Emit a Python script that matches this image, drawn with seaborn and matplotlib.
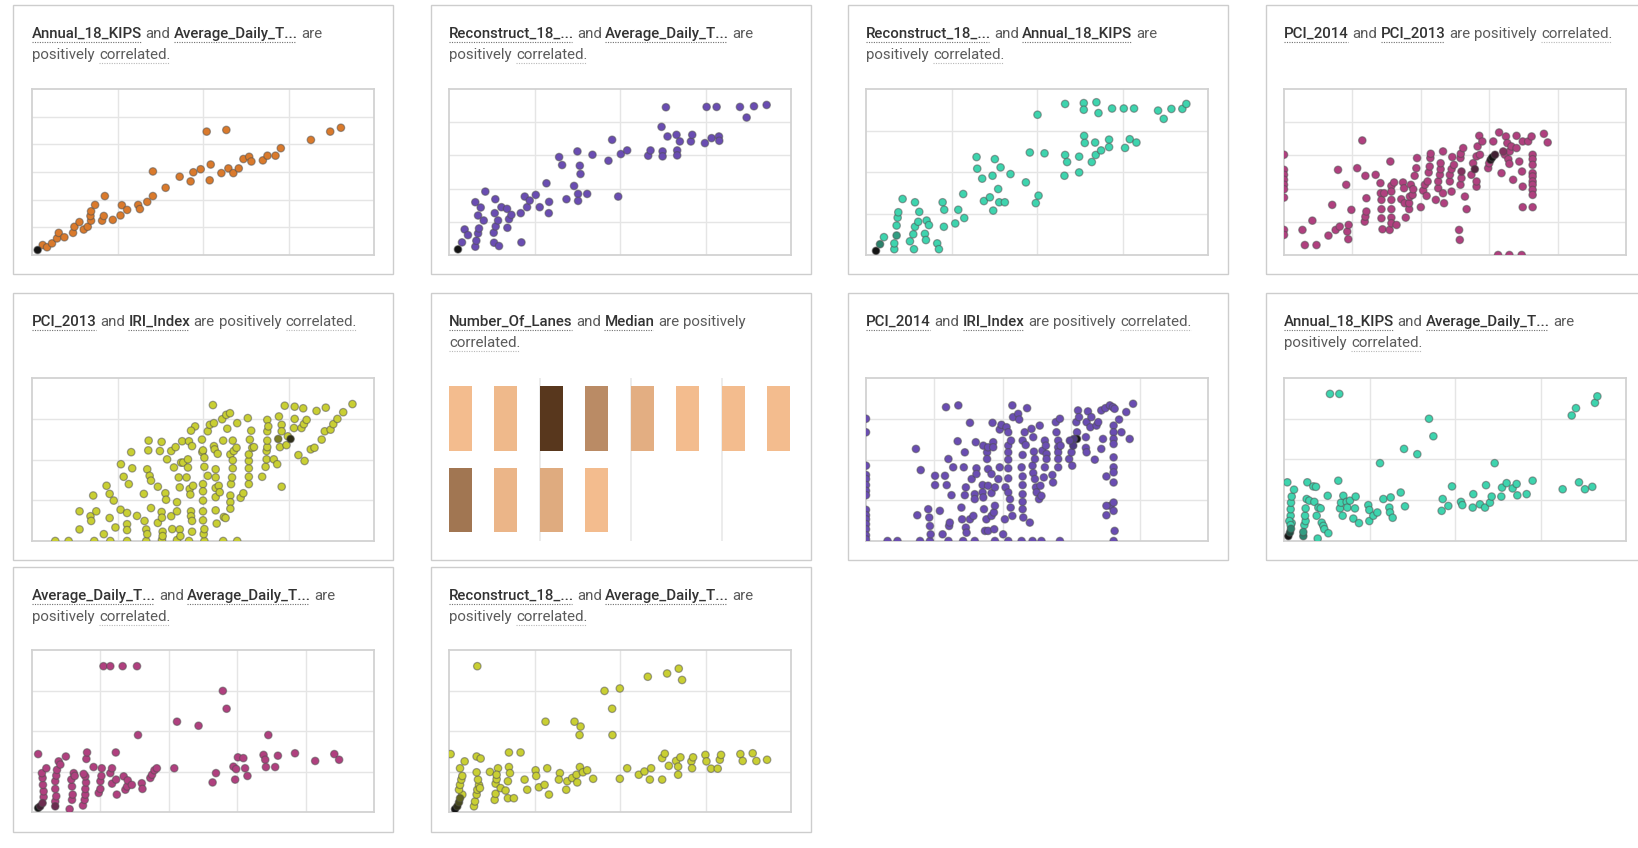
import numpy as np
import pandas as pd
import matplotlib
matplotlib.use("Agg")
import matplotlib.pyplot as plt
import seaborn as sns
from matplotlib.patches import Rectangle
from matplotlib.lines import Line2D
from matplotlib.colors import Normalize
from matplotlib.textpath import TextPath
from matplotlib.font_manager import FontProperties

W, H, DPI = 1638, 848, 100

# ---------------------------------------------------------------- data
# Annual_18_KIPS vs Average_Daily_T...
kips_adt_pts = [
    (12.5, 3.6), (17.6, 2.8), (23.4, 4.2), (29.3, 6.0), (31.3, 8.0), (37.9, 6.4), (48.0, 8.0),
    (49.6, 10.2), (55.5, 11.9), (60.5, 9.2), (65.2, 10.2), (69.1, 12.4), (68.4, 14.1), (69.1, 15.8),
    (73.8, 18.1), (82.0, 12.4), (84.0, 14.1), (85.2, 21.3), (94.5, 12.7), (103.5, 14.3), (105.1, 18.0),
    (111.3, 16.3), (124.2, 18.1), (126.2, 16.6), (134.8, 19.2), (141.4, 21.3), (141.4, 30.2),
    (156.3, 24.3), (172.7, 28.3), (185.5, 26.6), (188.7, 29.9), (197.3, 31.0), (204.3, 44.6),
    (207.8, 27.0), (209.0, 32.7), (221.5, 29.6), (227.3, 45.2), (229.7, 31.3), (235.5, 29.6),
    (241.8, 31.3), (247.3, 34.7), (254.0, 35.5), (256.6, 33.8), (270.0, 34.2), (275.4, 35.9),
    (284.8, 35.9), (291.0, 38.6), (326.2, 41.6), (348.8, 44.6), (361.3, 46.0),
]
kips_adt_dense = [(6.6, 1.8, 8)]

# Reconstruct_18_... vs Average_Daily_T...
recon_adt_pts = [
    (15.2, 3.8), (18.3, 7.7), (22.2, 6.0), (30.8, 2.5), (32.0, 4.3), (34.0, 6.5), (35.1, 8.0),
    (30.8, 15.9), (37.1, 14.3), (34.0, 11.9), (40.6, 10.4), (42.5, 19.1), (52.7, 3.7), (58.5, 2.7),
    (52.3, 6.7), (54.6, 8.6), (57.4, 10.4), (53.5, 12.6), (54.2, 16.8), (61.3, 14.4), (67.9, 13.9),
    (70.2, 10.8), (68.3, 8.2), (73.0, 12.1), (84.7, 3.8), (83.9, 12.6), (88.6, 17.6), (91.3, 14.4),
    (94.4, 16.4), (101.5, 18.1), (106.1, 14.4), (114.0, 21.6), (117.1, 16.0), (116.7, 12.6),
    (128.8, 29.5), (132.3, 27.1), (137.4, 16.8), (146.3, 20.8), (150.2, 31.2), (153.0, 26.9),
    (153.8, 24.4), (151.0, 18.4), (151.0, 16.3), (161.6, 18.4), (167.8, 30.2), (186.5, 28.4),
    (190.8, 34.7), (197.9, 17.6), (201.0, 30.4), (208.4, 31.5), (233.0, 29.9), (235.7, 31.5),
    (248.6, 38.6), (249.8, 31.2), (249.8, 29.7), (253.7, 44.5), (255.6, 35.7), (266.1, 36.2),
    (266.9, 31.5), (266.9, 30.0), (270.0, 34.2), (282.9, 34.2), (284.5, 36.2), (299.3, 33.7),
    (301.3, 44.6), (307.1, 35.2), (313.0, 44.6), (315.7, 35.7), (316.1, 34.4), (340.3, 44.6),
    (348.1, 41.4), (356.7, 44.8), (371.5, 45.2),
]
recon_adt_dense = [(10.5, 1.7, 8)]

# Reconstruct_18_... vs Annual_18_KIPS
recon_kips_pts = [
    (21.0, 4.3), (33.1, 1.4), (33.1, 2.8), (35.8, 7.1), (37.0, 9.0), (37.8, 10.3), (42.8, 13.5),
    (51.4, 3.3), (56.1, 1.4), (55.3, 5.0), (57.3, 6.8), (61.1, 8.0), (62.3, 10.4), (57.3, 12.7),
    (68.9, 5.1), (70.1, 3.6), (70.9, 8.3), (73.6, 7.2), (83.3, 2.8), (85.3, 1.4), (89.6, 12.7),
    (91.5, 10.9), (91.1, 6.8), (104.4, 7.6), (107.9, 10.9), (113.7, 14.7), (114.9, 8.9),
    (129.3, 23.6), (130.1, 20.8), (135.9, 18.4), (137.9, 13.0), (144.9, 13.9), (148.0, 19.1),
    (148.8, 10.7), (150.7, 23.1), (154.6, 15.9), (155.8, 12.7), (157.4, 21.1), (162.4, 12.7),
    (169.0, 19.5), (187.0, 17.5), (191.6, 24.7), (198.6, 12.5), (201.8, 14.3), (200.6, 33.8),
    (208.8, 24.5), (232.1, 19.1), (232.9, 24.1), (235.2, 22.4), (232.9, 36.4), (249.3, 19.9),
    (249.3, 23.7), (254.7, 36.6), (254.7, 35.0), (255.1, 28.7), (255.9, 27.0), (264.1, 22.4),
    (268.0, 27.1), (268.7, 24.1), (269.5, 36.8), (271.9, 34.2), (275.0, 25.2), (284.3, 27.8),
    (284.3, 26.0), (287.8, 35.3), (301.5, 35.3), (303.0, 25.8), (308.5, 27.9), (313.5, 35.3),
    (316.3, 27.1), (341.6, 34.8), (348.2, 32.8), (357.2, 35.2), (370.0, 35.2), (374.7, 36.4),
]
recon_kips_dense = [(11.7, 1.0, 8), (16.4, 2.6, 4), (35.8, 4.7, 3)]

# PCI_2014 vs PCI_2013
pci14_pci13_pts = [
    (0, 60.4), (0, 51.3), (0, 48.3), (0, 45.3), (0, 42.3), (0, 39.6), (0, 34.6), (0, 15.1), (0, 12.1),
    (62.6, 0), (65.9, 0), (69.5, 0),
    (5.4, 15.1), (6.1, 6.0), (8.3, 20.7), (9.5, 6.0), (13.0, 11.7), (14.1, 30.2), (15.1, 15.1),
    (15.8, 51.3), (16.3, 17.1), (18.2, 42.3), (18.5, 14.1), (18.8, 9.5), (18.9, 18.1), (19.7, 27.2),
    (21.4, 52.3), (22.9, 69.0), (23.6, 20.1), (23.8, 23.1), (24.1, 26.2), (24.1, 34.2), (23.8, 47.7),
    (26.8, 48.3), (28.2, 43.3), (28.3, 37.2), (28.5, 33.2), (28.5, 27.6), (28.5, 22.1), (28.8, 15.5),
    (29.3, 37.2), (30.9, 15.1), (31.1, 56.3), (31.4, 41.6), (31.4, 38.2), (31.4, 33.2), (31.4, 27.6),
    (31.4, 22.5), (31.4, 19.1), (32.2, 43.7), (32.9, 18.1), (34.3, 33.6), (34.8, 43.7), (35.1, 40.2),
    (35.3, 31.2), (35.6, 22.5), (36.6, 27.6), (36.6, 31.2), (36.8, 35.2), (37.1, 42.3), (37.6, 36.2),
    (37.8, 39.6), (38.2, 47.7), (38.7, 52.3), (38.9, 58.4), (40.0, 28.8), (40.7, 38.8), (41.2, 42.3),
    (41.7, 35.6), (42.0, 44.3), (42.3, 49.7), (42.6, 53.3), (42.8, 58.4), (42.9, 61.0), (44.4, 33.2),
    (45.1, 40.2), (45.1, 44.3), (45.6, 48.3), (45.8, 51.7), (45.8, 55.3), (46.5, 62.4), (46.5, 37.2),
    (46.8, 31.2), (48.5, 44.3), (48.5, 48.3), (49.0, 38.2), (49.0, 51.7), (49.2, 59.0), (49.7, 54.3),
    (51.2, 15.1), (51.4, 9.1), (51.6, 42.3), (51.9, 46.3), (51.6, 58.4), (51.7, 61.0), (52.4, 64.4),
    (52.9, 35.2), (53.4, 27.6), (54.8, 48.3), (55.3, 55.3), (56.3, 41.2), (56.3, 44.3), (56.3, 59.4),
    (57.1, 71.8), (56.6, 65.4), (57.3, 60.4), (58.0, 68.4), (59.7, 52.3), (60.0, 55.3), (61.2, 68.4),
    (62.9, 73.8), (63.6, 49.3), (64.6, 60.4), (64.9, 71.4), (65.3, 67.4), (65.6, 57.7), (65.9, 54.9),
    (66.0, 62.4), (66.5, 65.4), (67.0, 45.3), (68.0, 71.8), (68.0, 64.4), (68.8, 56.3), (69.6, 50.3),
    (69.8, 41.2), (69.8, 68.4), (69.8, 28.8), (71.4, 68.4), (72.4, 71.4), (72.7, 60.4), (72.7, 57.7),
    (72.7, 54.3), (72.7, 49.3), (72.7, 47.3), (72.7, 44.3), (72.7, 42.3), (72.7, 39.2), (72.7, 36.2),
    (72.7, 28.8), (76.0, 73.0), (77.1, 67.8),
]
pci14_pci13_dense = [(51.9, 50.3, 3), (55.8, 51.7, 5), (60.4, 57.3, 7), (60.9, 58.8, 8),
                     (61.7, 60.4, 6), (64.1, 62.4, 3)]

# PCI_2013 vs IRI_Index
pci13_iri_pts = [
    (6.8, 0), (10.7, 0), (18.2, 0), (22.9, 0), (27.8, 0), (33.4, 0), (38.0, 0.6), (42.4, 0.6),
    (45.9, 0), (50.4, 0), (55.9, 0), (60.0, 0),
    (13.9, 7.1), (13.9, 18.2), (17.1, 15.2), (17.3, 12.3), (18.8, 18.2), (17.9, 27.9), (21.0, 4.2),
    (21.8, 33.9), (22.7, 28.9), (22.7, 14.1), (23.9, 24.8), (24.4, 8.3), (25.9, 19.2), (26.0, 47.1),
    (26.8, 39.4), (27.8, 17.2), (27.8, 10.3), (27.8, 6.7), (28.3, 34.9), (29.0, 54.5), (29.3, 44.6),
    (30.7, 15.4), (32.7, 28.9), (32.9, 12.3), (33.4, 7.1), (33.7, 4.2), (33.7, 44.0), (34.1, 61.6),
    (34.4, 40.0), (34.8, 37.0), (34.0, 55.6), (34.8, 20.2), (36.8, 33.3), (36.8, 11.1), (37.4, 55.2),
    (37.9, 60.8), (37.9, 17.8), (38.0, 14.3), (38.2, 5.7), (38.2, 3.0), (39.0, 29.3), (39.2, 25.3),
    (39.5, 50.1), (40.7, 55.2), (40.7, 15.2), (41.0, 7.3), (41.5, 45.1), (42.0, 57.6), (42.4, 18.2),
    (42.4, 23.8), (42.9, 39.0), (43.2, 32.9), (43.2, 7.1), (43.4, 3.0), (43.6, 48.1), (43.9, 61.2),
    (44.2, 48.1), (45.2, 39.0), (45.6, 45.1), (45.6, 50.1), (45.9, 61.2), (46.1, 31.9), (46.3, 28.5),
    (46.5, 18.2), (46.5, 15.2), (46.8, 58.2), (46.8, 12.3), (46.8, 5.7), (47.1, 33.9), (47.7, 70.3),
    (46.5, 67.7), (49.7, 62.2), (49.8, 54.5), (50.0, 34.9), (50.0, 30.5), (50.0, 24.8), (50.0, 18.2),
    (50.0, 12.7), (50.2, 4.2), (50.0, 55.6), (50.4, 51.1), (50.4, 45.5), (50.4, 7.3), (51.4, 67.3),
    (51.4, 40.0), (52.0, 71.3), (52.9, 83.4), (53.2, 72.3), (53.2, 58.2), (53.4, 56.2), (53.7, 44.0),
    (53.7, 39.0), (53.7, 32.5), (53.7, 26.9), (53.7, 18.8), (54.0, 10.7), (54.3, 53.5), (54.6, 33.9),
    (54.9, 29.9), (55.6, 74.7), (55.9, 61.6), (56.1, 14.7), (56.6, 14.1), (56.8, 77.4), (57.1, 68.9),
    (57.9, 78.4), (58.0, 53.1), (58.0, 27.9), (58.0, 23.8), (58.0, 19.8), (58.2, 34.9), (58.5, 39.0),
    (58.7, 61.6), (58.7, 49.5), (58.7, 44.6), (59.0, 55.2), (59.8, 57.2), (60.0, 72.3), (61.0, 26.5),
    (61.8, 29.3), (63.1, 75.4), (63.4, 34.9), (63.4, 39.4), (63.4, 44.6), (63.4, 49.1), (63.4, 53.1),
    (63.7, 62.2), (64.1, 67.7), (64.4, 57.2), (64.9, 57.6), (67.3, 39.4), (68.3, 45.5), (68.6, 50.1),
    (68.6, 55.2), (68.8, 57.6), (68.8, 61.6), (68.8, 67.3), (68.8, 74.3), (69.1, 70.3), (70.7, 50.1),
    (71.7, 47.1), (72.2, 76.4), (72.5, 57.6), (73.0, 71.3), (73.0, 67.3), (73.0, 33.3), (73.9, 83.0),
    (74.4, 58.8), (74.8, 64.2), (76.6, 69.3), (76.8, 82.4), (76.8, 74.9), (77.9, 52.7), (78.8, 69.3),
    (79.3, 81.4), (79.5, 71.7), (79.7, 49.1), (80.3, 74.3), (81.5, 56.2), (82.6, 57.2), (83.2, 79.8),
    (84.7, 62.2), (85.6, 67.3), (85.9, 81.8), (87.3, 68.3), (88.1, 71.7), (89.3, 74.9), (91.0, 79.0),
    (93.7, 84.0),
]
pci13_iri_dense = [(72.0, 62.6, 4), (75.6, 62.6, 7)]

# Number_Of_Lanes vs Median (cell counts)
lanes_median_row1 = [1, 2, 39, 15, 5, 1, 1, 1]
lanes_median_row2 = [21, 3, 6, 1]

# PCI_2014 vs IRI_Index
pci14_iri_pts = [
    (0, 75.0), (0, 66.7), (0, 46.2), (0, 40.5), (0, 38.0), (0, 34.3), (0, 30.8), (0, 28.1),
    (0, 19.1), (0, 15.8), (0, 13.3), (0, 10.3), (0, 7.2), (0, 3.5), (0, 1.0),
    (6.3, 0), (9.2, 0), (15.8, 0), (18.7, 0), (24.1, 0), (28.4, 0), (31.8, 0), (37.7, 0),
    (41.6, 0), (45.5, 0), (48.7, 0), (51.3, 0), (56.7, 0), (72.4, 0),
    (14.6, 56.5), (15.0, 15.8), (16.0, 43.5), (18.2, 19.5), (18.5, 14.4), (18.7, 9.2), (18.9, 4.1),
    (20.2, 40.0), (20.2, 34.3), (21.6, 18.5), (22.4, 4.1), (23.1, 40.0), (23.4, 82.1), (23.6, 34.3),
    (24.1, 50.3), (24.3, 9.2), (24.5, 11.3), (25.0, 28.1), (25.5, 45.2), (26.8, 61.2), (27.0, 83.2),
    (27.9, 20.5), (28.1, 13.3), (28.6, 45.2), (28.9, 54.4), (28.9, 28.1), (29.2, 32.9), (29.2, 8.2),
    (29.4, 5.1), (30.4, 72.5), (30.4, 13.3), (30.9, 38.0), (31.4, 15.4), (31.8, 28.7), (31.8, 25.7),
    (32.1, 60.6), (32.3, 44.6), (32.3, 41.1), (34.1, 34.3), (34.1, 29.8), (34.3, 58.5), (34.3, 26.7),
    (34.5, 19.5), (34.8, 6.2), (35.2, 13.3), (35.4, 54.4), (35.4, 50.3), (35.7, 57.5), (35.7, 44.1),
    (35.7, 33.9), (35.7, 6.2), (36.7, 41.1), (36.7, 29.4), (36.7, 15.4), (37.0, 72.5), (37.2, 60.6),
    (37.2, 57.5), (37.4, 17.5), (37.5, 7.2), (37.7, 32.9), (37.7, 21.6), (38.7, 38.0), (39.1, 45.2),
    (39.1, 68.4), (39.6, 71.3), (40.1, 4.1), (40.6, 13.3), (40.8, 32.9), (41.1, 69.8), (41.6, 66.7),
    (41.6, 58.5), (41.6, 54.4), (41.6, 49.9), (41.6, 44.6), (41.6, 38.4), (41.6, 29.8), (42.1, 25.7),
    (42.3, 20.5), (42.4, 61.6), (42.8, 83.2), (42.8, 15.4), (43.0, 76.0), (44.5, 78.0), (44.8, 74.5),
    (45.5, 45.2), (45.8, 61.6), (45.8, 52.8), (45.8, 39.6), (45.8, 34.3), (45.8, 28.7), (45.8, 24.0),
    (45.8, 19.5), (46.0, 14.4), (46.4, 66.7), (46.7, 58.9), (47.1, 81.5), (47.9, 11.3), (48.4, 68.8),
    (48.7, 46.2), (48.9, 63.7), (48.9, 41.7), (49.1, 54.8), (49.4, 50.3), (49.4, 38.0), (49.7, 32.9),
    (49.9, 29.8), (50.6, 25.7), (50.8, 70.8), (51.0, 33.9), (51.3, 27.7), (51.6, 55.4), (52.0, 39.0),
    (52.3, 45.2), (52.3, 61.6), (52.6, 58.5), (52.8, 53.4), (52.8, 50.3), (54.5, 40.5), (54.7, 35.9),
    (55.5, 72.9), (55.7, 66.7), (56.2, 61.6), (56.2, 57.5), (56.2, 54.4), (56.2, 50.3), (56.2, 45.2),
    (56.7, 75.0), (56.9, 58.5), (59.4, 50.3), (60.1, 54.4), (60.3, 46.2), (61.5, 72.9), (61.7, 66.7),
    (62.0, 80.1), (62.3, 76.0), (64.3, 63.7), (64.3, 57.1), (64.5, 72.9), (64.5, 54.4), (64.9, 79.5),
    (65.6, 69.8), (65.9, 76.0), (66.9, 49.9), (67.4, 70.8), (67.9, 72.9), (68.8, 80.1), (68.8, 56.5),
    (69.3, 62.6), (70.0, 81.5), (70.3, 39.6), (71.3, 83.2), (71.5, 21.6), (72.2, 82.1), (72.4, 70.8),
    (72.4, 66.7), (72.4, 62.6), (72.4, 59.5), (72.4, 51.3), (72.4, 45.2), (72.4, 42.1), (72.4, 35.9),
    (72.4, 23.6), (72.4, 18.5), (72.7, 6.2), (72.7, 81.1), (74.0, 74.5), (74.7, 66.7), (76.1, 79.1),
    (77.1, 62.6), (78.1, 84.2), (70.3, 15.8), (70.3, 21.6),
]
pci14_iri_dense = [(61.7, 62.6, 8), (60.8, 62.6, 3), (60.6, 58.5, 3), (59.6, 61.6, 2)]

# Annual_18_KIPS vs Average_Daily_T... (second pair)
kips_adt2_pts = [
    (9.0, 4.4), (7.8, 6.2), (7.8, 7.8), (8.2, 9.4), (9.0, 10.9), (11.7, 12.6), (3.9, 14.4),
    (6.2, 4.9), (7.8, 3.9), (23.8, 3.9), (25.3, 4.9), (24.6, 6.2), (25.3, 8.0), (26.5, 10.3),
    (27.3, 14.4), (29.6, 9.9), (34.3, 13.4), (37.4, 13.3), (35.5, 9.6), (39.4, 0.6), (40.2, 8.2),
    (38.2, 6.2), (42.9, 8.0), (44.1, 4.5), (46.0, 3.7), (47.2, 2.9), (51.9, 1.9), (53.8, 36.1),
    (64.7, 36.1), (51.1, 11.1), (63.5, 14.8), (65.5, 8.0), (66.7, 9.4), (68.6, 6.2), (69.4, 11.1),
    (73.3, 9.6), (74.1, 8.2), (77.2, 9.9), (81.1, 5.5), (83.0, 8.0), (83.8, 10.9), (87.7, 4.4),
    (98.6, 8.8), (99.8, 7.6), (99.8, 4.9), (104.5, 6.2), (109.2, 7.0), (112.3, 19.1), (116.2, 10.3),
    (123.2, 8.2), (124.0, 7.0), (124.8, 10.7), (127.1, 5.7), (136.5, 11.9), (140.4, 22.6), (141.5, 8.5),
    (155.9, 21.3), (169.6, 30.0), (174.7, 25.7), (185.6, 10.3), (184.4, 7.4), (192.2, 8.6),
    (196.5, 13.4), (207.0, 9.6), (208.6, 8.8), (220.7, 8.2), (221.4, 11.5), (229.2, 9.0), (235.1, 8.2),
    (236.3, 13.7), (240.9, 9.4), (242.9, 10.9), (246.4, 19.1), (254.2, 10.9), (255.0, 13.1),
    (260.4, 14.2), (267.4, 12.9), (272.1, 14.0), (272.9, 11.2), (283.8, 11.5), (290.8, 14.8),
    (325.9, 12.7), (336.5, 30.8), (341.5, 32.6), (345.0, 14.4), (352.0, 12.7), (360.6, 13.3),
    (363.7, 33.9), (366.5, 35.5),
]
kips_adt2_dense = [(5.1, 1.2, 8), (7.0, 2.1, 6), (8.2, 3.0, 4), (22.6, 1.2, 4), (22.6, 2.2, 3)]

# Average_Daily_T... vs Average_Daily_T...
adt_adt_pts = [
    (3.4, 3.7), (3.4, 5.1), (3.2, 6.7), (3.1, 8.4), (2.9, 9.6), (4.2, 10.8), (1.8, 14.3),
    (6.8, 2.6), (7.1, 3.9), (6.8, 5.7), (6.8, 7.6), (7.1, 9.0), (7.3, 10.4), (7.8, 12.5), (9.9, 13.7),
    (8.3, 11.7), (11.0, 0.7), (11.7, 3.0), (11.9, 4.3), (11.7, 6.3), (11.5, 8.0), (12.2, 9.6),
    (12.5, 8.9), (14.9, 1.6), (15.4, 3.0), (15.6, 4.3), (15.6, 5.7), (15.8, 7.3), (15.6, 8.8),
    (15.1, 9.4), (15.9, 13.1), (16.1, 14.7), (18.0, 11.1), (19.5, 4.7), (20.0, 5.7), (20.0, 7.6),
    (20.3, 8.9), (20.4, 10.8), (20.9, 36.0), (22.9, 36.0), (22.9, 9.6), (23.4, 10.8), (23.4, 7.0),
    (24.6, 8.0), (24.5, 14.7), (24.8, 4.3), (26.5, 36.0), (26.8, 8.8), (27.3, 5.5), (27.8, 6.3),
    (28.0, 7.8), (29.2, 6.7), (30.7, 36.0), (31.0, 19.0), (32.1, 7.1), (32.3, 5.7), (34.6, 8.4),
    (35.1, 9.2), (35.8, 10.3), (36.5, 10.8), (41.6, 10.8), (42.4, 22.3), (48.7, 21.3), (52.8, 7.3),
    (53.8, 9.6), (55.8, 29.9), (56.9, 25.5), (58.9, 11.2), (59.4, 8.0), (59.7, 10.6), (60.2, 13.5),
    (61.8, 13.3), (62.3, 10.8), (63.0, 8.9), (67.7, 14.1), (68.2, 12.9), (68.4, 11.1), (69.1, 19.0),
    (71.1, 11.1), (71.9, 13.9), (76.9, 14.5), (82.8, 12.6), (88.4, 14.3), (89.8, 12.9),
]
adt_adt_dense = [(1.8, 1.0, 8), (2.4, 1.4, 6), (3.1, 2.2, 4), (6.8, 1.4, 4)]

# Reconstruct_18_... vs Average_Daily_T... (second pair)
recon_adt2_pts = [
    (15.6, 4.3), (11.7, 5.5), (12.9, 6.7), (14.4, 8.0), (15.6, 8.9), (12.9, 10.8), (18.3, 12.5),
    (1.9, 14.3), (29.2, 1.4), (30.4, 2.6), (32.3, 4.3), (33.1, 5.5), (35.1, 6.7), (33.9, 8.0),
    (32.3, 9.8), (36.2, 5.9), (32.3, 13.7), (37.0, 13.2), (33.1, 36.0), (47.9, 9.9), (53.4, 3.0),
    (54.5, 4.5), (54.5, 7.0), (55.7, 8.1), (57.3, 10.8), (55.7, 9.2), (60.4, 5.9), (66.2, 5.3),
    (68.9, 3.4), (70.1, 11.1), (71.3, 9.6), (68.9, 7.6), (70.1, 14.7), (75.9, 3.4), (83.7, 14.7),
    (88.4, 8.0), (91.5, 5.5), (101.3, 10.3), (102.0, 8.9), (105.2, 6.1), (111.8, 6.7), (112.9, 22.3),
    (114.9, 10.8), (116.9, 4.3), (129.7, 9.6), (128.5, 8.0), (137.1, 5.5), (138.3, 7.6), (144.1, 8.4),
    (146.8, 22.3), (149.2, 9.2), (150.0, 7.3), (153.1, 11.1), (153.9, 21.1), (152.7, 19.0),
    (156.6, 9.8), (161.6, 10.3), (168.6, 8.2), (181.9, 29.9), (190.8, 25.5), (191.2, 19.0),
    (199.8, 30.5), (199.8, 8.2), (208.4, 10.8), (222.0, 9.2), (228.6, 10.0), (232.5, 33.4),
    (234.9, 8.0), (236.4, 10.8), (249.3, 8.0), (249.3, 13.3), (252.4, 14.4), (255.1, 34.2),
    (257.1, 11.4), (265.6, 12.6), (268.0, 11.2), (268.7, 35.4), (270.7, 13.5), (272.6, 32.6),
    (268.0, 9.2), (283.5, 12.5), (285.5, 13.5), (284.3, 10.8), (299.9, 14.1), (301.1, 12.5),
    (306.5, 10.7), (314.3, 10.7), (316.7, 12.9), (318.2, 14.1), (340.8, 14.3), (343.5, 12.6),
    (355.2, 14.5), (359.5, 12.6), (372.0, 12.9),
]
recon_adt2_dense = [(7.0, 0.7, 8), (9.7, 1.4, 7), (11.7, 2.4, 6), (12.9, 3.4, 5)]

# ---------------------------------------------------------------- style
ORANGE = "#DA7A2C"
PURPLE = "#6A4DB2"
TEAL = "#3ED4AE"
MAGENTA = "#B0407F"
LIME = "#C9CF33"

sns.set_theme(style="white")
plt.rcParams["font.family"] = ["Roboto", "DejaVu Sans"]

FS = 10.8          # ~15 px
LINE_H = 21        # px between headline baselines
SPACE = 4.4        # px word gap

fig = plt.figure(figsize=(W / DPI, H / DPI), dpi=DPI)
fig.patch.set_facecolor("white")

PROP_VAR = FontProperties(family=["Roboto", "DejaVu Sans"], weight="medium", size=FS)
PROP_TXT = FontProperties(family=["Roboto", "DejaVu Sans"], weight="normal", size=FS)


def fx(px):
    return px / W


def fy(py_top):
    return (H - py_top) / H


def ink_width(s, prop):
    # right edge of the glyph outlines, in output pixels
    ext = TextPath((0, 0), s, prop=prop).get_extents()
    return ext.x1 * DPI / 72.0


def add_card(x, y, w, h):
    fig.add_artist(Rectangle((fx(x), fy(y + h)), w / W, h / H, transform=fig.transFigure,
                             fill=False, ec="#cdcdcd", lw=1.0))


def headline(x, y_top, lines):
    for i, line in enumerate(lines):
        base = y_top + i * LINE_H
        cx = x
        for s, kind in line:
            if kind == "var":
                prop, color = PROP_VAR, "#333333"
            else:
                prop, color = PROP_TXT, "#5b5b5b"
            fig.text(fx(cx), fy(base), s, fontproperties=prop, color=color,
                     va="baseline", ha="left")
            w = ink_width(s, prop)
            if kind in ("var", "term"):
                uc = "#707070" if kind == "var" else "#b8b8b8"
                fig.add_artist(Line2D([fx(cx), fx(cx + w)], [fy(base + 4)] * 2,
                                      transform=fig.transFigure, color=uc, lw=0.8,
                                      ls=(0, (1, 1.2))))
            cx += w + SPACE


def panel_axes(x, y, w, h):
    return fig.add_axes([fx(x), fy(y + h), w / W, h / H])


def scatter_panel(ax, pts, dense, base, xlim, ylim, xgrid, ygrid):
    xs = [p[0] for p in pts] + [d[0] for d in dense]
    ys = [p[1] for p in pts] + [d[1] for d in dense]
    ns = [1] * len(pts) + [d[2] for d in dense]
    df = pd.DataFrame({"x": xs, "y": ys, "n": ns})
    cmap = sns.blend_palette([base, "#141414"], as_cmap=True)
    sns.scatterplot(data=df, x="x", y="y", hue="n", palette=cmap, hue_norm=(1, 8),
                    s=29, edgecolor=(0.3, 0.3, 0.3, 0.5), linewidth=0.9,
                    legend=False, ax=ax, zorder=3)
    ax.set_xlim(*xlim)
    ax.set_ylim(*ylim)
    ax.set_xticks(xgrid)
    ax.set_yticks(ygrid)
    ax.tick_params(length=0, labelbottom=False, labelleft=False)
    ax.set_xlabel("")
    ax.set_ylabel("")
    ax.set_facecolor("white")
    ax.grid(True, color="#e5e5e5", lw=1.0)
    ax.set_axisbelow(True)
    for sp in ax.spines.values():
        sp.set_visible(True)
        sp.set_color("#d2d2d2")
        sp.set_linewidth(1.3)


def heat_panel(ax, rows):
    cmap = sns.blend_palette(["#F3BC8E", "#54341A"], as_cmap=True)
    norm = Normalize(1, 40)
    for r, vals in enumerate(rows):
        ax.bar(np.arange(len(vals)), 0.79, bottom=r + 0.1, width=0.507, align="edge",
               color=[cmap(norm(v)) for v in vals], linewidth=0, zorder=2)
    for xv in (2, 4, 6):
        ax.axvline(xv, color="#ececec", lw=1.4, zorder=1)
    ax.set_xlim(0, 7.507)
    ax.set_ylim(2, 0)
    ax.axis("off")


# ---------------------------------------------------------------- layout
COLS = [13, 431, 848, 1266]
CARD_W = 380
ROWS = [(5, 269), (293, 267), (567, 265)]
PLOT_Y = [(89, 166), (378, 163), (650, 162)]
PLOT_W = 342

V = "var"
P = "plain"
T = "term"
two_line = lambda a, b: [[(a, V), ("and", P), (b, V), ("are", P)],
                         [("positively", P), ("correlated.", T)]]
one_line = lambda a, b: [[(a, V), ("and", P), (b, V), ("are", P), ("positively", P), ("correlated.", T)]]

cards = [
    (0, 0, two_line("Annual_18_KIPS", "Average_Daily_T..."), "scatter",
     (kips_adt_pts, kips_adt_dense, ORANGE, (0, 400), (0, 60), [100, 200, 300], [10, 20, 30, 40, 50])),
    (0, 1, two_line("Reconstruct_18_...", "Average_Daily_T..."), "scatter",
     (recon_adt_pts, recon_adt_dense, PURPLE, (0, 400), (0, 50), [100, 200, 300], [10, 20, 30, 40])),
    (0, 2, two_line("Reconstruct_18_...", "Annual_18_KIPS"), "scatter",
     (recon_kips_pts, recon_kips_dense, TEAL, (0, 400), (0, 40), [100, 200, 300], [10, 20, 30])),
    (0, 3, one_line("PCI_2014", "PCI_2013"), "scatter",
     (pci14_pci13_pts, pci14_pci13_dense, MAGENTA, (0, 100), (0, 100), [20, 40, 60, 80], [20, 40, 60, 80])),
    (1, 0, one_line("PCI_2013", "IRI_Index"), "scatter",
     (pci13_iri_pts, pci13_iri_dense, LIME, (0, 100), (0, 100), [25, 50, 75], [25, 50, 75])),
    (1, 1, [[("Number_Of_Lanes", V), ("and", P), ("Median", V), ("are", P), ("positively", P)],
            [("correlated.", T)]], "heat", None),
    (1, 2, one_line("PCI_2014", "IRI_Index"), "scatter",
     (pci14_iri_pts, pci14_iri_dense, PURPLE, (0, 100), (0, 100), [20, 40, 60, 80], [25, 50, 75])),
    (1, 3, two_line("Annual_18_KIPS", "Average_Daily_T..."), "scatter",
     (kips_adt2_pts, kips_adt2_dense, TEAL, (0, 400), (0, 40), [100, 200, 300], [10, 20, 30])),
    (2, 0, two_line("Average_Daily_T...", "Average_Daily_T..."), "scatter",
     (adt_adt_pts, adt_adt_dense, MAGENTA, (0, 100), (0, 40), [20, 40, 60, 80], [10, 20, 30])),
    (2, 1, two_line("Reconstruct_18_...", "Average_Daily_T..."), "scatter",
     (recon_adt2_pts, recon_adt2_dense, LIME, (0, 400), (0, 40), [100, 200, 300], [10, 20, 30])),
]

for r, c, lines, kind, spec in cards:
    cx = COLS[c]
    cy, ch = ROWS[r]
    add_card(cx, cy, CARD_W, ch)
    left = cx + (19 if c == 0 else 18)
    headline(left, cy + 33, lines)
    py, ph = PLOT_Y[r]
    if kind == "scatter":
        ax = panel_axes(left, py, PLOT_W, ph)
        scatter_panel(ax, *spec)
    else:
        ax = panel_axes(left, py, 341, ph)
        heat_panel(ax, [lanes_median_row1, lanes_median_row2])

fig.savefig("out.png", dpi=DPI, facecolor="white")
